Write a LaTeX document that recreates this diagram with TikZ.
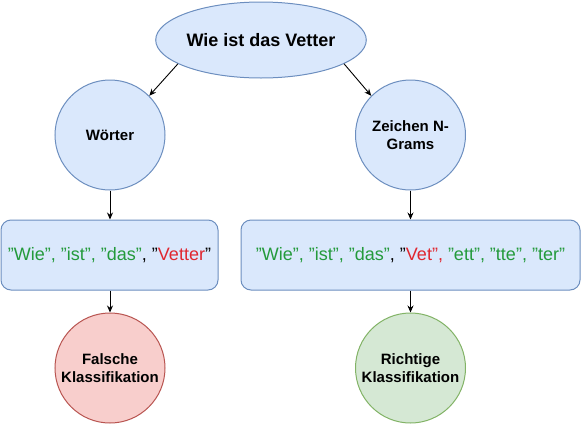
\documentclass[tikz,border=0pt]{standalone}
\usepackage{fontspec}
\setmainfont{Liberation Sans}
\usetikzlibrary{arrows.meta,shapes.geometric}
\definecolor{bluefill}{HTML}{DAE8FC}
\definecolor{bluedraw}{HTML}{6C8EBF}
\definecolor{redfill}{HTML}{F8CECC}
\definecolor{reddraw}{HTML}{B85450}
\definecolor{greenfill}{HTML}{D5E8D4}
\definecolor{greendraw}{HTML}{82B366}
\definecolor{txtgreen}{HTML}{239A3B}
\definecolor{txtred}{HTML}{E0262F}
\newcommand{\grtxt}[1]{\textcolor{txtgreen}{#1}}
\newcommand{\rdtxt}[1]{\textcolor{txtred}{#1}}
\newcommand{\dq}{\symbol{34}}
\tikzset{
  topell/.style={ellipse, draw=bluedraw, fill=bluefill, line width=1pt, minimum width=172pt, minimum height=76pt, inner sep=0pt, font=\fontsize{18}{21}\selectfont\bfseries},
  circ/.style={circle, draw=bluedraw, fill=bluefill, line width=1pt, minimum size=110pt, inner sep=0pt, align=center, font=\fontsize{15}{18}\selectfont\bfseries},
  redcirc/.style={circ, draw=reddraw, fill=redfill},
  greencirc/.style={circ, draw=greendraw, fill=greenfill},
  tokbox/.style={rectangle, rounded corners=10pt, draw=bluedraw, fill=bluefill, line width=1pt, minimum height=70pt, inner sep=0pt, font=\fontsize{18}{21}\selectfont},
  arr/.style={-{Stealth[length=7pt,width=6pt]}, line width=0.9pt, black}
}
\begin{document}
\begin{tikzpicture}[x=1pt,y=-1pt]
\useasboundingbox (0,0) rectangle (582,424);
\node[topell] (top) at (261,40) {Wie ist das Vetter};
\node[circ] (w) at (110,135) {Wörter};
\node[circ] (z) at (410.5,135) {Zeichen N-\\Grams};
\node[tokbox, minimum width=217pt] (b1) at (109.5,255) {\grtxt{\dq Wie\dq, \dq ist\dq, \dq das\dq}, \dq\rdtxt{Vetter}\dq};
\node[tokbox, minimum width=339pt] (b2) at (410.5,255) {\grtxt{\dq Wie\dq, \dq ist\dq, \dq das\dq}, \dq\rdtxt{Vet\dq, }\grtxt{\dq ett\dq, \dq tte\dq, \dq ter\dq}};
\node[redcirc] (f) at (110,368) {Falsche\\Klassifikation};
\node[greencirc] (r) at (410.5,368) {Richtige\\Klassifikation};
\draw[arr] (top.196) -- (w.45);
\draw[arr] (top.344) -- (z.135);
\draw[arr] (w.south) -- (w.south |- b1.north);
\draw[arr] (z.south) -- (z.south |- b2.north);
\draw[arr] (b1.south -| f.north) -- (f.north);
\draw[arr] (b2.south -| r.north) -- (r.north);
\end{tikzpicture}
\end{document}
